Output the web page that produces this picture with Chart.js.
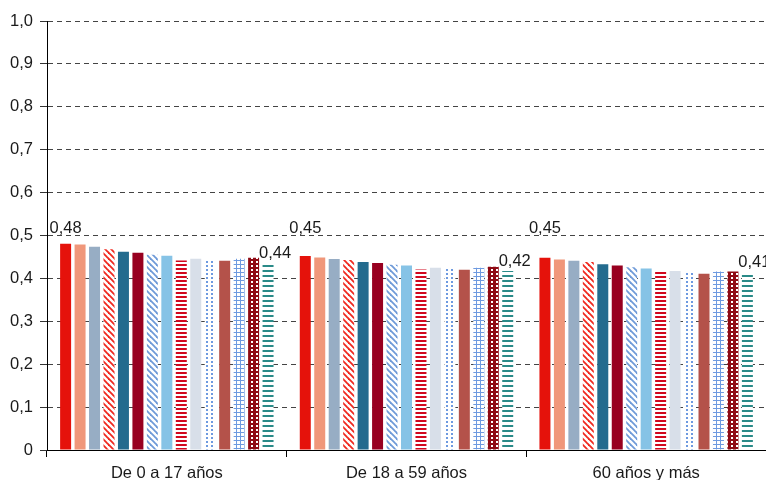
<!DOCTYPE html>
<html><head><meta charset="utf-8">
<script src="https://cdn.jsdelivr.net/npm/chart.js@4/dist/chart.umd.min.js"></script>
<style>html,body{margin:0;padding:0;background:#fff}#wrap{width:766px;height:480px}</style>
</head><body><div id="wrap"><canvas id="c" width="766" height="480"></canvas></div>
<script>
const categories = ['De 0 a 17 años', 'De 18 a 59 años', '60 años y más'];
const yTicks = [0, 0.1, 0.2, 0.3, 0.4, 0.5, 0.6, 0.7, 0.8, 0.9, 1.0];
const serie01 = [0.481, 0.452, 0.448];
const serie02 = [0.479, 0.449, 0.444];
const serie03 = [0.474, 0.445, 0.441];
const serie04 = [0.468, 0.443, 0.438];
const serie05 = [0.462, 0.438, 0.433];
const serie06 = [0.460, 0.436, 0.430];
const serie07 = [0.455, 0.432, 0.426];
const serie08 = [0.453, 0.430, 0.423];
const serie09 = [0.442, 0.421, 0.419];
const serie10 = [0.446, 0.425, 0.417];
const serie11 = [0.441, 0.423, 0.415];
const serie12 = [0.441, 0.420, 0.411];
const serie13 = [0.446, 0.425, 0.416];
const serie14 = [0.448, 0.427, 0.416];
const serie15 = [0.437, 0.417, 0.414];

function tile(w, h, draw) {
  const cv = document.createElement('canvas');
  cv.width = w; cv.height = h;
  const g = cv.getContext('2d');
  draw(g, w, h);
  return g.createPattern(cv, 'repeat');
}
function diag(color, size, lw) {
  return tile(size, size, (g, w, h) => {
    g.fillStyle = '#fff'; g.fillRect(0, 0, w, h);
    g.strokeStyle = color; g.lineWidth = lw;
    for (let k = -1; k <= 1; k++) {
      g.beginPath(); g.moveTo(k * w - 1, -1); g.lineTo(k * w + w + 1, h + 1); g.stroke();
    }
  });
}
function hstripe(color, period, lw) {
  return tile(4, period, (g, w, h) => {
    g.fillStyle = '#fff'; g.fillRect(0, 0, w, h);
    g.fillStyle = color; g.fillRect(0, 0, w, lw);
  });
}
function dots(color, bg, w, h) {
  return tile(w, h, (g) => {
    g.fillStyle = bg; g.fillRect(0, 0, w, h);
    g.fillStyle = color; g.fillRect(1, 1, 2, 2);
  });
}
function grid(color, size) {
  return tile(size, size, (g, w, h) => {
    g.fillStyle = '#fff'; g.fillRect(0, 0, w, h);
    g.fillStyle = color; g.fillRect(0, 0, w, 1); g.fillRect(0, 0, 1, h);
  });
}

const fills = [
  '#E5120B', '#F0977A', '#97ADC4', diag('#F0281E', 6, 1.8),
  '#236B8E', '#980020', diag('#6E9AD8', 6, 1.8), '#86C3E6',
  hstripe('#D2081E', 4, 2), '#D8DFE9', dots('#6E9AE0', '#fff', 5, 4), '#B4524A',
  grid('#6E9AE0', 4), dots('#fff', '#8E0A14', 5, 4), hstripe('#2A8A88', 5, 2)
];
const series = [serie01, serie02, serie03, serie04, serie05, serie06, serie07, serie08,
  serie09, serie10, serie11, serie12, serie13, serie14, serie15];

const FONT = '"Liberation Sans", Arial, sans-serif';
const fmt = v => v.toFixed(2).replace('.', ',');

const labelPlugin = {
  id: 'labels',
  afterDatasetsDraw(chart) {
    const ctx = chart.ctx;
    const ys = chart.scales.y;
    ctx.save();
    ctx.font = '16.5px ' + FONT;
    ctx.fillStyle = '#1a1a1a';
    ctx.textAlign = 'center';
    ctx.textBaseline = 'alphabetic';
    const first = chart.getDatasetMeta(0);
    first.data.forEach((b, i) => {
      ctx.fillText(fmt(series[0][i]), b.x, ys.getPixelForValue(0.5) - 3);
    });
    const last = chart.getDatasetMeta(14);
    last.data.forEach((b, i) => {
      ctx.fillText(fmt(series[14][i]), b.x + 7, b.y - 5);
    });
    ctx.restore();
  }
};

new Chart(document.getElementById('c'), {
  type: 'bar',
  data: {
    labels: categories,
    datasets: series.map((s, i) => ({
      data: s, backgroundColor: fills[i], borderWidth: 0,
      categoryPercentage: 0.905, barPercentage: 0.76
    }))
  },
  options: {
    responsive: false, animation: false,
    events: [],
    layout: { padding: { top: 21, right: 0, left: 0, bottom: 0 } },
    plugins: { legend: { display: false }, tooltip: { enabled: false } },
    scales: {
      x: {
        grid: { display: true, drawOnChartArea: false, drawTicks: true, tickLength: 7, color: '#000', offset: true },
        border: { display: true, color: '#000', width: 1 },
        ticks: { font: { family: FONT, size: 16.5 }, color: '#1a1a1a', padding: 7, maxRotation: 0 },
        afterFit(s) { s.height = 30; }
      },
      y: {
        min: 0, max: 1,
        afterBuildTicks(s) { s.ticks = yTicks.map(v => ({ value: v })); },
        grid: { color: '#444', lineWidth: 1, tickLength: 7, tickColor: '#333', tickBorderDash: [] },
        border: { display: true, color: '#000', width: 1, dash: [5, 4] },
        ticks: {
          font: { family: FONT, size: 16.5 }, color: '#1a1a1a', padding: 7,
          callback: v => v === 0 ? '0' : v.toFixed(1).replace('.', ',')
        },
        afterFit(s) { s.width = 47; }
      }
    }
  },
  plugins: [labelPlugin]
});
</script></body></html>
